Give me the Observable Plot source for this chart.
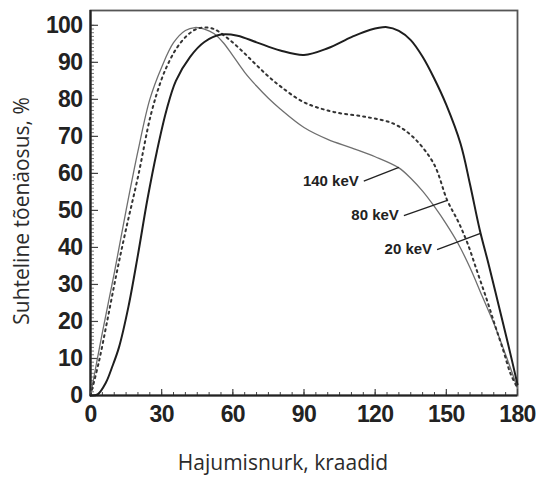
<!DOCTYPE html>
<html><head><meta charset="utf-8">
<script src="https://cdn.jsdelivr.net/npm/d3@7"></script>
<script src="https://cdn.jsdelivr.net/npm/@observablehq/plot@0.6"></script>
<style>
body{margin:0;background:#fff;}
#chart svg{display:block;}
g[aria-label="x-axis tick label"] text, g[aria-label="y-axis tick label"] text{letter-spacing:-0.6px;}
g[aria-label="ytitle"] text{letter-spacing:0.4px;}
g[aria-label="xtitle"] text{letter-spacing:1px;}
</style></head><body><div id="chart"></div>
<script>
// 20 keV (solid, dark)
const angle20 = [0,3,6.5,9,12,16,20,24,28,32,36,42,48,55,62,70,80,90,100,110,118,125,130,135,140,145,150,156,160,164,168,172,176,180];
const value20 = [0,0.3,3.5,7.5,13,24,38,53,66,77,85,91.5,95.5,97.5,97.2,95.4,93.2,92,93.8,96.8,98.8,99.5,98.5,96,91.5,85.5,78.5,68,57,45,35,24.5,14,3];
// 80 keV (dotted)
const angle80 = [0,3.5,7,11,15,20,25.5,30,33,36,40,44,47.6,52,58,64,69.4,75,80.5,90,102.5,116.6,127.8,136,144.7,150.4,155,159,163,167,170.5,174,177,180];
const value80 = [0,9,20,33,45,59,76,85.5,90,93.5,96.8,98.8,99.4,99,96.4,93,89.6,86.2,83.3,79.2,76.6,75.2,73.4,69.8,62.6,52.7,47,41,33.5,26,19,12.2,6,2];
// 140 keV (thin, gray)
const angle140 = [0,5,10,15,20,25,30,35,40,44,48,52,56,60,65,70,75,80,90,100,110,120,130,135,140,145,150,155,160,165,170,175,180];
const value140 = [0,17,33,50,66,80,88.7,95.3,98.6,99.4,99,97.8,95.3,91.8,87.3,83.6,80.3,77.4,72.4,69.2,66.9,64.5,61.5,58.7,55.2,51,46.3,41,34.5,27,19.5,11,2];

// annotation labels
const labelText = ["140 keV", "80 keV", "20 keV"];
const labelAngle = [115.2, 132.1, 146.1];
const labelValue = [57.9, 48.6, 39.4];
const pointAngle = [130, 150.4, 164.4];
const pointValue = [61.6, 52.7, 43.8];

// axis ticks
const xTicks = [0, 30, 60, 90, 120, 150, 180];
const yTicks = [0, 10, 20, 30, 40, 50, 60, 70, 80, 90, 100];
const xMinor = d3.range(0, 181, 5);
const yMinor = d3.range(0, 101, 1);

const xTitle = "Hajumisnurk, kraadid";
const yTitle = "Suhteline tõenäosus, %";

const rows = (a, v) => a.map((x, i) => ({angle: x, value: v[i]}));
const s20 = rows(angle20, value20);
const s80 = rows(angle80, value80);
const s140 = rows(angle140, value140);
const labels = labelText.map((t, i) => ({text: t, x1: labelAngle[i], y1: labelValue[i], x2: pointAngle[i], y2: pointValue[i]}));

const W = 541, H = 480, ML = 90, MR = 24, MT = 10, MB = 85;
const FW = W - ML - MR, FH = H - MT - MB;
const tickFont = {fontSize: 23, fontWeight: "bold", fontFamily: "Liberation Sans, Arial, sans-serif", fill: "#222"};

const chart = Plot.plot({
  width: W, height: H,
  marginLeft: ML, marginRight: MR, marginTop: MT, marginBottom: MB,
  style: {background: "#fff", fontFamily: "Liberation Sans, Arial, sans-serif"},
  x: {domain: [0, 180]},
  y: {domain: [0, 104]},
  marks: [
    Plot.frame({stroke: "#555", strokeWidth: 1.8}),
    Plot.tickX(xMinor, {x: d => d, insetTop: FH - 3, stroke: "#444", strokeWidth: 1}),
    Plot.tickX(xTicks, {x: d => d, insetTop: FH - 6, stroke: "#444", strokeWidth: 1.2}),
    Plot.tickY(yMinor, {y: d => d, insetRight: FW - 4, stroke: "#555", strokeWidth: 0.8}),
    Plot.tickY(yTicks, {y: d => d, insetRight: FW - 8, stroke: "#444", strokeWidth: 1.2}),
    Plot.ruleX([0], {stroke: "#222", strokeWidth: 2.2}),
    Plot.ruleY([0], {stroke: "#222", strokeWidth: 2.2}),
    Plot.axisX(xTicks, {tickSize: 0, tickPadding: 10, label: null, ...tickFont}),
    Plot.axisY(yTicks, {tickSize: 0, tickPadding: 8, label: null, ...tickFont}),
    Plot.line(s140, {x: "angle", y: "value", curve: "catmull-rom", stroke: "#6f6f6f", strokeWidth: 1.3}),
    Plot.line(s80, {x: "angle", y: "value", curve: "catmull-rom", stroke: "#333", strokeWidth: 2, strokeDasharray: "2,4"}),
    Plot.line(s20, {x: "angle", y: "value", curve: "catmull-rom", stroke: "#1e1e1e", strokeWidth: 2}),
    Plot.link(labels, {x1: "x1", y1: "y1", x2: "x2", y2: "y2", stroke: "#222", strokeWidth: 1.3}),
    Plot.text(labels, {x: "x1", y: "y1", text: "text", textAnchor: "end", dx: -5, fontSize: 15, fontWeight: "bold", fill: "#222"}),
    Plot.text([yTitle], {frameAnchor: "left", textAnchor: "middle", lineAnchor: "middle", rotate: -90, dx: -68, dy: 8, fontSize: 21, fontFamily: "Open Sans", fill: "#2b2b2b", ariaLabel: "ytitle"}),
    Plot.text([xTitle], {frameAnchor: "bottom", textAnchor: "middle", lineAnchor: "middle", dx: -21, dy: 68, fontSize: 21, fontFamily: "Open Sans", fill: "#2b2b2b", ariaLabel: "xtitle"})
  ]
});
document.getElementById("chart").appendChild(chart);
</script></body></html>
